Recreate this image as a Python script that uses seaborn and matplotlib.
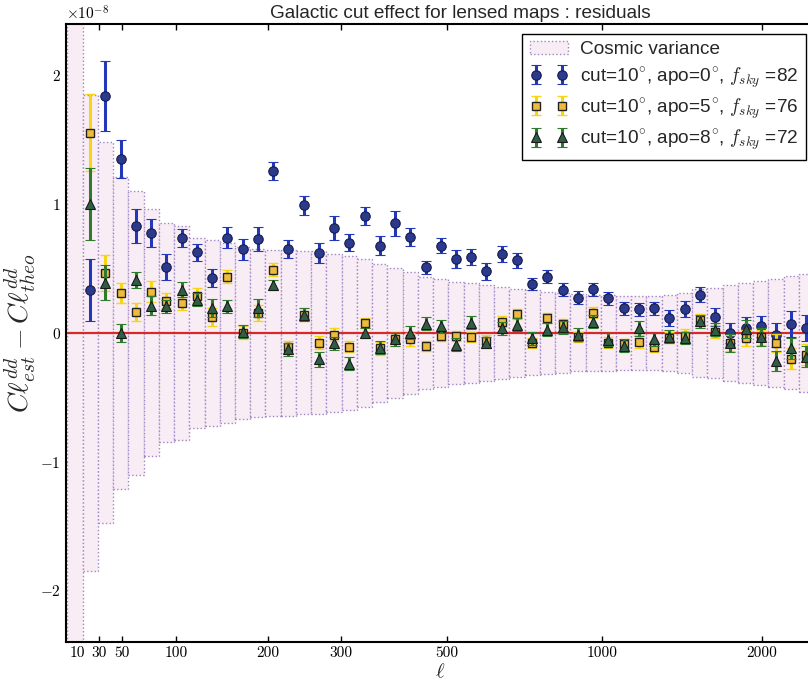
import numpy as np
import matplotlib
matplotlib.use("Agg")
import matplotlib.pyplot as plt
import seaborn as sns

# multipole bins (bin 0 = lowest bin, only its cosmic variance is drawn)
bins = np.arange(49)
cosmic_var = [3.0, 1.85, 1.48, 1.21, 1.105, 0.96, 0.85, 0.83, 0.737, 0.72,
              0.70, 0.67, 0.655, 0.646, 0.646, 0.633, 0.633, 0.615, 0.60, 0.576,
              0.537, 0.503, 0.472, 0.438, 0.418, 0.395, 0.387, 0.373, 0.36, 0.342,
              0.33, 0.317, 0.31, 0.30, 0.297, 0.296, 0.29, 0.29, 0.29, 0.295,
              0.31, 0.34, 0.348, 0.373, 0.387, 0.405, 0.418, 0.44, 0.46]

est_bins = np.arange(1, 49)

# residuals in units of 1e-8
apo0 = [0.335, 1.84, 1.35, 0.83, 0.776, 0.51, 0.74, 0.625, 0.43, 0.74,
        0.65, 0.73, 1.26, 0.65, 0.99, 0.62, 0.815, 0.70, 0.905, 0.677,
        0.85, 0.745, 0.51, 0.677, 0.573, 0.59, 0.477, 0.612, 0.563, 0.38,
        0.438, 0.335, 0.272, 0.34, 0.27, 0.192, 0.184, 0.19, 0.115, 0.185,
        0.296, 0.122, 0.0, 0.04, 0.05, -0.016, 0.07, 0.036]
apo0_err = [0.24, 0.275, 0.15, 0.135, 0.11, 0.10, 0.07, 0.065, 0.07, 0.08,
            0.08, 0.095, 0.07, 0.07, 0.075, 0.08, 0.09, 0.065, 0.07, 0.075,
            0.095, 0.07, 0.05, 0.06, 0.07, 0.065, 0.065, 0.06, 0.06, 0.05,
            0.05, 0.05, 0.05, 0.05, 0.05, 0.05, 0.05, 0.05, 0.06, 0.06,
            0.06, 0.07, 0.08, 0.08, 0.08, 0.09, 0.10, 0.10]

apo5 = [1.554, 0.465, 0.31, 0.16, 0.32, 0.25, 0.23, 0.29, 0.127, 0.436,
        0.0, 0.153, 0.49, -0.11, 0.14, -0.075, -0.016, -0.106, 0.075, -0.12,
        -0.05, -0.05, -0.10, -0.023, -0.023, -0.03, -0.06, 0.088, 0.145, -0.08,
        0.114, 0.07, -0.03, 0.158, -0.075, -0.085, -0.068, -0.106, -0.036, -0.023,
        0.10, 0.01, -0.08, -0.04, -0.035, -0.075, -0.20, -0.17]
apo5_err = [0.30, 0.14, 0.08, 0.07, 0.08, 0.06, 0.05, 0.06, 0.07, 0.05,
            0.05, 0.06, 0.05, 0.05, 0.05, 0.05, 0.05, 0.04, 0.04, 0.05,
            0.05, 0.05, 0.04, 0.04, 0.04, 0.04, 0.04, 0.04, 0.04, 0.04,
            0.04, 0.04, 0.04, 0.04, 0.04, 0.04, 0.05, 0.04, 0.04, 0.05,
            0.05, 0.05, 0.06, 0.06, 0.06, 0.07, 0.08, 0.08]

apo8 = [1.00, 0.39, 0.0, 0.41, 0.21, 0.205, 0.335, 0.257, 0.19, 0.205,
        0.01, 0.19, 0.37, -0.127, 0.14, -0.205, -0.08, -0.24, 0.0, -0.115,
        -0.05, 0.0, 0.07, 0.05, -0.093, 0.08, -0.075, 0.036, 0.062, -0.041,
        0.023, 0.044, -0.016, 0.088, -0.054, -0.10, 0.036, -0.05, -0.03, -0.04,
        0.09, 0.023, -0.08, 0.03, -0.035, -0.22, -0.12, -0.185]
apo8_err = [0.28, 0.135, 0.07, 0.06, 0.075, 0.05, 0.06, 0.05, 0.07, 0.05,
            0.05, 0.07, 0.04, 0.05, 0.05, 0.06, 0.05, 0.05, 0.04, 0.05,
            0.05, 0.05, 0.05, 0.05, 0.05, 0.05, 0.04, 0.05, 0.05, 0.05,
            0.05, 0.05, 0.05, 0.05, 0.05, 0.05, 0.06, 0.05, 0.05, 0.05,
            0.05, 0.05, 0.07, 0.07, 0.07, 0.08, 0.08, 0.08]

# ell tick labels and where they fall on the bin axis
tick_pos = [0.15, 1.59, 3.08, 6.63, 12.68, 17.43, 24.39, 34.56, 45.06]
tick_labels = ['10', '30', '50', '100', '200', '300', '500', '1000', '2000']

labels = ['cut=10$^{\\circ}$, apo=0$^{\\circ}$, $f_{sky}$ =82',
          'cut=10$^{\\circ}$, apo=5$^{\\circ}$, $f_{sky}$ =76',
          'cut=10$^{\\circ}$, apo=8$^{\\circ}$, $f_{sky}$ =72']

sns.set_theme(style='ticks')
plt.rcParams['font.family'] = 'serif'
plt.rcParams['font.serif'] = ['cmr10']
plt.rcParams['mathtext.fontset'] = 'cm'
plt.rcParams['axes.formatter.use_mathtext'] = True
plt.rcParams['axes.unicode_minus'] = True

scale = 1e-8
cv = np.array(cosmic_var) * scale

fig = plt.figure(figsize=(8.08, 6.84), dpi=100)
ax = fig.add_axes([0.0813, 0.0618, 0.9274, 0.9031])

ax.bar(bins, 2 * cv, bottom=-cv, width=1.0, color='#f9edf5',
       edgecolor='#9f86c6', linestyle=':', linewidth=1.0,
       label='Cosmic variance', zorder=1)
ax.axhline(0, color='#d62a2a', lw=1.6, zorder=2)

ax.errorbar(est_bins, np.array(apo0) * scale, yerr=np.array(apo0_err) * scale,
            fmt='o', ms=6.8, mfc='#2c3a8e', mec='#151a4a', mew=0.8,
            ecolor='#2238b8', elinewidth=2.2, capsize=3.5, capthick=1.5,
            label=labels[0], zorder=4)
ax.errorbar(est_bins, np.array(apo5) * scale, yerr=np.array(apo5_err) * scale,
            fmt='s', ms=6, mfc='#f0bb3c', mec='#222222', mew=1.0,
            ecolor='#f5d516', elinewidth=2.2, capsize=3.5, capthick=1.5,
            label=labels[1], zorder=5)
ax.errorbar(est_bins, np.array(apo8) * scale, yerr=np.array(apo8_err) * scale,
            fmt='^', ms=6.5, mfc='#2f5e45', mec='#1a1a1a', mew=0.8,
            ecolor='#2f7a2c', elinewidth=2.2, capsize=3.5, capthick=1.5,
            label=labels[2], zorder=6)

ax.set_xlim(-0.61, 48.56)
ax.set_ylim(-2.4e-8, 2.4e-8)
ax.set_xticks(tick_pos)
ax.set_xticklabels(tick_labels)
ax.set_yticks([-2e-8, -1e-8, 0, 1e-8, 2e-8])
ax.tick_params(direction='in', top=True, right=True, length=4, width=1,
               labelsize=11, colors='black')
for sp in ax.spines.values():
    sp.set_linewidth(1.5)
    sp.set_color('black')

ax.set_xlabel('$\\ell$', fontsize=15, labelpad=2)
ax.set_ylabel('$C\\ell^{dd}_{est} - C\\ell^{dd}_{theo}$', fontsize=20, labelpad=1)
ax.set_title('Galactic cut effect for lensed maps : residuals',
             fontsize=13.7, family='Liberation Sans', x=0.526, pad=4)
ax.yaxis.get_offset_text().set_fontsize(11)

leg = ax.legend(loc='upper right', numpoints=2, fancybox=False,
                framealpha=1, edgecolor='black',
                prop={'family': 'Liberation Sans', 'size': 13.7},
                borderaxespad=0.5, labelspacing=0.35, handletextpad=0.6)
leg.get_frame().set_linewidth(1.0)

fig.savefig('out.png', dpi=100)
